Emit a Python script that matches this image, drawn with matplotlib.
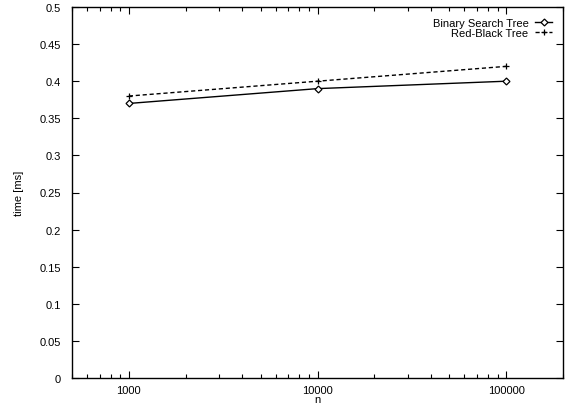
import matplotlib
matplotlib.use("Agg")
import matplotlib.pyplot as plt
from matplotlib.ticker import FixedLocator, NullFormatter

plt.rcParams['font.family'] = ['Liberation Sans', 'DejaVu Sans']

n = [1000, 10000, 100000]
bst_time = [0.37, 0.39, 0.40]
rbt_time = [0.38, 0.40, 0.42]
y_ticks = [0, 0.05, 0.1, 0.15, 0.2, 0.25, 0.3, 0.35, 0.4, 0.45, 0.5]
y_labels = ['0', '0.05', '0.1', '0.15', '0.2', '0.25', '0.3', '0.35', '0.4', '0.45', '0.5']

fig = plt.figure(figsize=(5.71, 4.06), dpi=100)
ax = fig.add_axes([72 / 571, 27 / 406, 491 / 571, 371 / 406])

ax.plot(n, bst_time, color='black', lw=1.0, marker='D', ms=3.5,
        mfc='white', mec='black', mew=0.9, label='Binary Search Tree')
ax.plot(n, rbt_time, color='black', lw=1.0, ls=(0, (3, 2)), marker='+', ms=5,
        mew=0.9, label='Red-Black Tree')

ax.set_xscale('log')
ax.set_xlim(500, 200000)
ax.set_ylim(0, 0.5)
ax.xaxis.set_major_locator(FixedLocator(n))
ax.set_xticklabels(['1000', '10000', '100000'])
minors = [m * 10 ** e for e in (2, 3, 4, 5) for m in range(2, 10)]
ax.xaxis.set_minor_locator(FixedLocator(minors))
ax.xaxis.set_minor_formatter(NullFormatter())
ax.set_yticks(y_ticks)
ax.set_yticklabels(y_labels)

ax.tick_params(which='both', direction='in', top=True, right=True, labelsize=8)
ax.tick_params(axis='y', pad=8)
ax.tick_params(axis='x', pad=5)
ax.tick_params(which='major', length=5, width=0.8)
ax.tick_params(which='minor', length=3, width=0.8)
for s in ax.spines.values():
    s.set_linewidth(1.0)

ax.set_xlabel('n', fontsize=8, labelpad=-1)
ax.set_ylabel('time [ms]', fontsize=8, labelpad=11)

ax.legend(loc='upper right', frameon=False, markerfirst=False, fontsize=8,
          handlelength=1.5, handletextpad=0.6, labelspacing=0.0,
          borderaxespad=0.6)

fig.savefig('out.png', dpi=100)
